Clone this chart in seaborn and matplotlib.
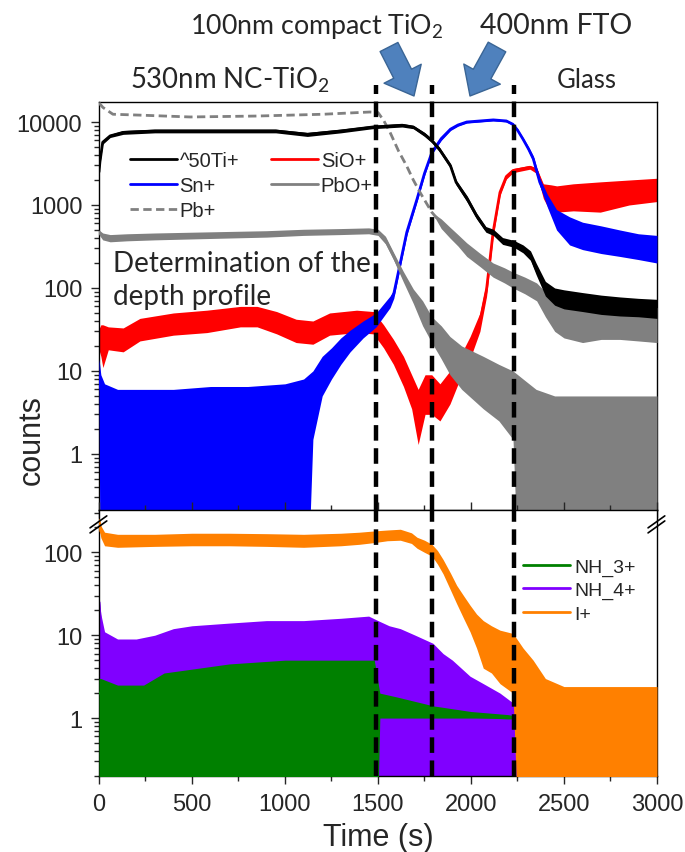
import numpy as np
import matplotlib
matplotlib.use('Agg')
import matplotlib.pyplot as plt
import seaborn as sns
from matplotlib.ticker import FixedLocator, LogLocator, NullFormatter, FuncFormatter, MultipleLocator

# ---------------- data ----------------
# top panel
t_ti   = [0, 5, 20, 60, 130, 300, 650, 950, 1120, 1300, 1470, 1630, 1690, 1750, 1790, 1830, 1890, 1920, 1980, 2030, 2080, 2120, 2170, 2230, 2280, 2320, 2350, 2400, 2450, 2500, 2600, 2700, 2800, 2900, 3000]
ti_mid = [2500, 3300, 5700, 6800, 7500, 7800, 7800, 7800, 7100, 7800, 8700, 9150, 8700, 7100, 5960, 4700, 2960, 1880, 1180, 740, 510, 470, 370, 340, 295, 245, 170, 100, 85, 78, 68, 64, 61, 58, 56]
ti_lo  = [2400, 3100, 5400, 6500, 7100, 7400, 7400, 7400, 6700, 7400, 8300, 8700, 8300, 6700, 5600, 4400, 2750, 1750, 1080, 680, 470, 430, 335, 310, 265, 215, 145, 80, 62, 56, 52, 48, 46, 45, 43]
ti_hi  = [2600, 3500, 6000, 7100, 7900, 8200, 8200, 8200, 7500, 8200, 9100, 9600, 9100, 7500, 6300, 5000, 3150, 2000, 1280, 800, 550, 510, 405, 375, 330, 280, 200, 120, 100, 95, 88, 82, 78, 75, 73]

t_sio   = [0, 10, 21, 50, 130, 220, 400, 580, 760, 850, 955, 1060, 1150, 1240, 1385, 1475, 1530, 1583, 1637, 1681, 1716, 1753, 1789, 1833, 1887, 1941, 1995, 2048, 2084, 2119, 2156, 2190, 2226, 2317, 2353, 2389, 2430, 2461, 2550, 2695, 2850, 3000]
sio_mid = [24, 26, 26, 25, 24, 32, 37, 40, 46, 46, 39, 31, 29, 37, 40, 39, 27, 18, 10.6, 6.6, 3.2, 6, 6, 4.6, 7.4, 11.6, 20, 39, 97, 470, 1420, 2200, 2600, 2850, 2600, 1550, 1350, 1300, 1350, 1420, 1500, 1550]
sio_lo  = [18, 15, 11, 18, 17, 23, 27, 29, 34, 34, 28, 22, 21, 27, 29, 28, 19, 12, 6.5, 3.5, 1.3, 3, 3, 2.5, 4, 8, 14, 30, 80, 420, 1300, 2050, 2450, 2700, 2400, 1200, 800, 820, 850, 820, 1000, 1100]
sio_hi  = [32, 36, 36, 34, 33, 43, 50, 54, 60, 60, 52, 42, 40, 50, 54, 52, 36, 24, 15, 9, 6, 9, 9, 7, 10, 15, 26, 50, 120, 520, 1550, 2350, 2750, 3000, 2800, 1800, 1750, 1700, 1800, 1900, 2000, 2100]

t_sn   = [0, 10, 30, 100, 200, 400, 600, 800, 1000, 1100, 1150, 1200, 1250, 1300, 1350, 1420, 1490, 1565, 1585, 1620, 1655, 1710, 1750, 1790, 1840, 1890, 1930, 1977, 2050, 2120, 2190, 2225, 2250, 2280, 2310, 2335, 2370, 2410, 2460, 2530, 2600, 2700, 2800, 2900, 3000]
sn_mid = [9, 6, 4, 3, 3, 2.8, 2.8, 3, 3.5, 4.5, 6, 10, 14, 19, 24, 33, 42, 68, 85, 200, 470, 1180, 2400, 4300, 6300, 8200, 9200, 10000, 10300, 10600, 10300, 9400, 8000, 6200, 4700, 3600, 1880, 1180, 740, 600, 510, 460, 420, 380, 360]
sn_lo  = [5, 0, 0, 0, 0, 0, 0, 0, 0, 0, 1.5, 5, 8, 12, 17, 25, 34, 58, 75, 180, 430, 1100, 2250, 4100, 6000, 7900, 8900, 9700, 10000, 10300, 10000, 9100, 7700, 5900, 4400, 3300, 1700, 950, 500, 330, 290, 260, 240, 220, 200]
sn_hi  = [14, 9, 7, 6, 6, 6, 6.5, 6.5, 7, 8, 10, 15, 19, 25, 31, 40, 50, 80, 95, 220, 510, 1260, 2550, 4500, 6600, 8500, 9500, 10300, 10600, 10900, 10600, 9700, 8300, 6500, 5000, 3900, 2100, 1350, 880, 720, 620, 560, 500, 450, 430]

t_pb   = [0, 21, 75, 220, 490, 848, 1205, 1457, 1500, 1530, 1565, 1610, 1654, 1690, 1726, 1789, 1840, 1887, 1930, 1977, 2050, 2119, 2180, 2226, 2290, 2353, 2400, 2450, 2500, 2600, 2700, 2800, 2900, 3000]
pb_mid = [17000, 15000, 12400, 12100, 11500, 11800, 12400, 13200, 13000, 10500, 7500, 4500, 2960, 2000, 1420, 820, 600, 470, 380, 295, 220, 170, 145, 128, 110, 93, 70, 52, 45, 39, 42, 42, 40, 39]
pb_lo  = [17000, 15000, 12400, 12100, 11500, 11800, 12400, 13200, 13000, 10500, 7500, 4500, 2960, 2000, 1420, 820, 520, 400, 320, 240, 180, 135, 115, 100, 85, 70, 45, 30, 25, 22, 24, 24, 23, 22]
pb_hi  = [17000, 15000, 12400, 12100, 11500, 11800, 12400, 13200, 13000, 10500, 7500, 4500, 2960, 2000, 1420, 820, 680, 540, 440, 350, 260, 200, 175, 155, 135, 115, 90, 70, 62, 58, 60, 62, 60, 58]

t_pbo   = [0, 20, 60, 150, 300, 500, 700, 900, 1100, 1300, 1450, 1500, 1540, 1583, 1635, 1690, 1740, 1789, 1840, 1887, 1950, 2066, 2150, 2226, 2280, 2350, 2450, 2600, 2800, 3000]
pbo_mid = [470, 420, 400, 410, 420, 430, 440, 450, 470, 480, 490, 470, 380, 245, 140, 81, 50, 32, 22, 15, 11, 7.4, 5.5, 4.6, 3.5, 2.5, 2, 2, 2, 2]
pbo_lo  = [440, 380, 360, 370, 380, 390, 400, 410, 430, 440, 450, 430, 340, 220, 120, 65, 35, 22, 14, 9, 6, 3.5, 2.5, 1.5, 0, 0, 0, 0, 0, 0]
pbo_hi  = [500, 460, 440, 450, 460, 470, 480, 490, 510, 520, 530, 510, 420, 270, 160, 97, 70, 45, 35, 26, 20, 15, 12, 10, 8, 6, 5, 5, 5, 5]

# bottom panel
t_i   = [0, 10, 30, 100, 300, 500, 700, 900, 1100, 1300, 1400, 1490, 1550, 1620, 1680, 1710, 1750, 1790, 1820, 1850, 1890, 1923, 1960, 1995, 2030, 2066, 2110, 2156, 2226, 2280, 2334, 2400, 2500, 2700, 2900, 3000]
i_mid = [240, 180, 150, 140, 140, 145, 145, 142, 140, 145, 150, 158, 162, 166, 150, 132, 120, 108, 88, 68, 45, 32, 23, 16.7, 12.5, 9.5, 8, 6.6, 5, 3.5, 2.6, 1.8, 1.5, 1.5, 1.5, 1.5]
i_lo  = [200, 150, 120, 115, 118, 120, 120, 118, 115, 120, 125, 132, 138, 140, 128, 112, 100, 90, 72, 55, 35, 24, 16, 11, 7, 4, 3.5, 2.6, 2, 0, 0, 0, 0, 0, 0, 0]
i_hi  = [260, 210, 175, 165, 165, 170, 170, 168, 165, 170, 175, 182, 186, 190, 172, 152, 140, 125, 105, 82, 56, 40, 30, 23, 18, 15, 13, 11.5, 10.5, 7, 5, 3, 2.4, 2.4, 2.4, 2.4]

t_nh4   = [0, 10, 30, 100, 200, 300, 400, 500, 700, 900, 1100, 1300, 1450, 1500, 1560, 1620, 1700, 1795, 1850, 1900, 1995, 2080, 2156, 2230, 2300, 2390]
nh4_mid = [25, 12, 6, 4.5, 4.5, 5, 5.5, 6, 6.5, 7, 7, 7.5, 8, 7.5, 6.5, 5.5, 4.5, 3.5, 3, 2.5, 2, 1.5, 1.3, 1, 1, 1]
nh4_lo  = [0, 0, 0, 0, 0, 0, 0, 0, 0, 0, 0, 0, 0, 0, 0, 0, 0, 0, 0, 0, 0, 0, 0, 0, 0, 0]
nh4_hi  = [30, 18, 11, 9, 9, 10, 12, 13, 14, 15, 15, 16, 17, 15, 13, 12, 10, 8, 6, 5, 3.2, 2.5, 2, 1.5, 1.1, 1.05]

t_nh3   = [0, 10, 100, 240, 350, 700, 1000, 1300, 1480, 1510, 1600, 1800, 2000, 2200, 2300]
nh3_mid = [2, 2, 1.8, 1.8, 2, 2.2, 2.2, 2.2, 2.2, 1.2, 1.2, 1.1, 1.05, 1.0, 1.0]
nh3_lo  = [0, 0, 0, 0, 0, 0, 0, 0, 0, 1, 1, 1, 1, 1, 1]
nh3_hi  = [3, 3, 2.5, 2.5, 3.5, 4.5, 5, 5, 5, 2.0, 1.8, 1.4, 1.2, 1.1, 1.0]

layer_bounds = [1490, 1790, 2230]
top_ticks = [1, 10, 100, 1000, 10000]
bot_ticks = [1, 10, 100]

# ---------------- style ----------------
sns.set_style('ticks')
plt.rcParams['font.family'] = ['Liberation Sans', 'DejaVu Sans']
plt.rcParams['mathtext.fontset'] = 'custom'
plt.rcParams['mathtext.rm'] = 'Lato'
plt.rcParams['mathtext.it'] = 'Lato'
plt.rcParams['axes.linewidth'] = 1.0

C_TI, C_SIO, C_SN, C_GRAY = '#000000', '#FF0000', '#0000FF', '#808080'
C_NH3, C_NH4, C_I = '#008000', '#8000FF', '#FF8000'
FLOOR = 1e-3  # zero counts drawn at the bottom of the log axis

fig = plt.figure(figsize=(6.85, 8.53), dpi=100)
ax_top = fig.add_axes([0.1445, 0.4009, 0.8146, 0.4783])
ax_bot = fig.add_axes([0.1445, 0.0891, 0.8146, 0.3118])


def series(ax, t, mid, lo, hi, color, label, z, ls='-'):
    ax.fill_between(t, np.maximum(np.asarray(lo, float), FLOOR), hi,
                    color=color, lw=0, zorder=z)
    sns.lineplot(x=t, y=mid, ax=ax, color=color, linewidth=2.0,
                 linestyle=ls, label=label, zorder=z + 0.5)


for ax in (ax_top, ax_bot):
    ax.set_yscale('log')

series(ax_top, t_sio, sio_mid, sio_lo, sio_hi, C_SIO, 'SiO+', 2)
series(ax_top, t_sn, sn_mid, sn_lo, sn_hi, C_SN, 'Sn+', 3)
series(ax_top, t_pbo, pbo_mid, pbo_lo, pbo_hi, C_GRAY, 'PbO+', 4)
series(ax_top, t_pb, pb_mid, pb_lo, pb_hi, C_GRAY, 'Pb+', 5, ls=(0, (3, 1.6)))
series(ax_top, t_ti, ti_mid, ti_lo, ti_hi, C_TI, '^50Ti+', 6)

series(ax_bot, t_nh4, nh4_mid, nh4_lo, nh4_hi, C_NH4, 'NH_4+', 2)
series(ax_bot, t_nh3, nh3_mid, nh3_lo, nh3_hi, C_NH3, 'NH_3+', 3)
series(ax_bot, t_i, i_mid, i_lo, i_hi, C_I, 'I+', 4)

ax_top.set_ylim(0.211, 17400)
ax_bot.set_ylim(0.2, 324)
for ax in (ax_top, ax_bot):
    ax.set_xlim(0, 3000)
    ax.xaxis.set_major_locator(MultipleLocator(500))
    ax.xaxis.set_minor_locator(MultipleLocator(250))
    ax.yaxis.set_minor_locator(LogLocator(base=10, subs=np.arange(2, 10), numticks=20))
    ax.yaxis.set_minor_formatter(NullFormatter())
    ax.yaxis.set_major_formatter(FuncFormatter(lambda v, p: f'{v:g}'))
    ax.tick_params(which='both', direction='out', width=1.0, labelsize=17, pad=6)
    ax.tick_params(which='major', length=6)
    ax.tick_params(which='minor', length=3.5)
    ax.set_xlabel('')
    ax.set_ylabel('')
    for s in ax.spines.values():
        s.set_visible(True)
        s.set_linewidth(1.0)
        s.set_color('black')

ax_top.yaxis.set_major_locator(FixedLocator(top_ticks))
ax_bot.yaxis.set_major_locator(FixedLocator(bot_ticks))
ax_top.tick_params(axis='x', which='both', labelbottom=False)
ax_bot.tick_params(axis='x', which='both', top=True, labeltop=False)

# layer boundaries
for tb in layer_bounds:
    ax_top.axvline(tb, ymin=0, ymax=1.042, color='black', lw=3.2,
                   ls=(0, (3.5, 1.7)), zorder=20, clip_on=False)
    ax_bot.axvline(tb, ymin=0, ymax=1, color='black', lw=3.2,
                   ls=(0, (3.5, 1.7)), zorder=20)

# legends
h, l = ax_top.get_legend_handles_labels()
order = ['^50Ti+', 'Sn+', 'Pb+', 'SiO+', 'PbO+']
hd = dict(zip(l, h))
ax_top.legend([hd[k] for k in order], order, loc='upper left',
              bbox_to_anchor=(0.056, 0.88), ncol=2, frameon=False,
              borderpad=0, borderaxespad=0, handlelength=2.3,
              handletextpad=0.15, columnspacing=1.6, labelspacing=0.3,
              fontsize=14.5)
h, l = ax_bot.get_legend_handles_labels()
order = ['NH_3+', 'NH_4+', 'I+']
hd = dict(zip(l, h))
ax_bot.legend([hd[k] for k in order], order, loc='upper left',
              bbox_to_anchor=(0.76, 0.82), frameon=False,
              borderpad=0, borderaxespad=0, handlelength=2.4,
              handletextpad=0.25, labelspacing=0.3, fontsize=14)

# labels
ax_bot.set_xlabel('Time (s)', fontsize=22, labelpad=5)
fig.text(0.047, 0.484, 'counts', rotation=90, fontsize=22, ha='center', va='center')

# axis break marks
for xc in (0.0, 1.0):
    for dy in (0.0, 0.019):
        ax_bot.plot([xc - 0.016, xc + 0.014], [0.914 + dy, 0.959 + dy],
                    transform=ax_bot.transAxes, color='black', lw=1.2,
                    clip_on=False, zorder=30)

# annotations
af = 'Lato'
fig.text(0.277, 0.960, '100nm compact TiO$_2$', fontfamily=af, fontsize=19.3, va='baseline')
fig.text(0.701, 0.960, '400nm FTO', fontfamily=af, fontsize=20.5, va='baseline')
fig.text(0.190, 0.896, '530nm NC-TiO$_2$', fontfamily=af, fontsize=19.8, va='baseline')
fig.text(0.813, 0.897, 'Glass', fontfamily=af, fontsize=18.5, va='baseline')
ax_top.text(0.025, 0.565, 'Determination of the\ndepth profile', transform=ax_top.transAxes,
            fontfamily=af, fontsize=20, va='center', ha='left', linespacing=1.3, zorder=25)

arrow_kw = dict(arrowstyle='simple,head_length=0.9,head_width=1.5,tail_width=0.72',
                mutation_scale=20, fc='#4F81BD', ec='#3A6595', lw=1.0,
                shrinkA=0, shrinkB=0)
ax_top.annotate('', xy=(414, 756), xytext=(389, 805), xycoords='figure pixels',
                textcoords='figure pixels', arrowprops=arrow_kw, annotation_clip=False)
ax_top.annotate('', xy=(470, 756), xytext=(497, 805), xycoords='figure pixels',
                textcoords='figure pixels', arrowprops=arrow_kw, annotation_clip=False)

fig.savefig('out.png', dpi=100)
